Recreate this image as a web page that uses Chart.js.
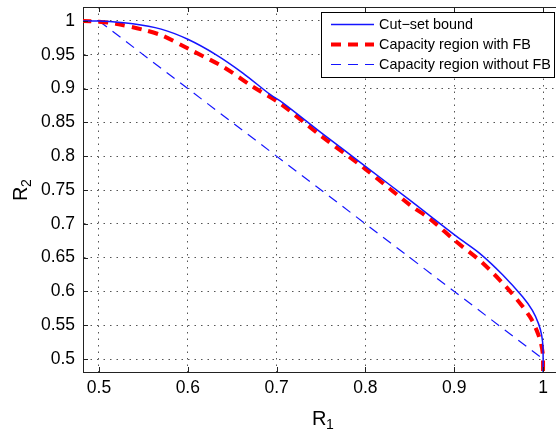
<!DOCTYPE html>
<html>
<head>
<meta charset="utf-8">
<script src="https://cdn.jsdelivr.net/npm/chart.js@4/dist/chart.umd.min.js"></script>
<style>
  body { margin: 0; background: #fff; }
  #wrap { width: 556px; height: 430px; }
</style>
</head>
<body>
<div id="wrap"><canvas id="rateChart" width="556" height="430"></canvas></div>
<script>
// values

const cutsetX = [0.48, 0.5, 0.538, 0.57, 0.6, 0.632, 0.662, 0.693, 0.707, 0.75, 0.8, 0.85, 0.903, 0.929, 0.955, 0.977, 0.988, 0.995, 0.9985, 1.0, 1.0];
const cutsetY = [1.0, 1.0, 0.996, 0.988, 0.973, 0.95, 0.923, 0.891, 0.879, 0.835, 0.785, 0.735, 0.681, 0.656, 0.624, 0.592, 0.572, 0.552, 0.535, 0.515, 0.47];

const fbX = [0.48, 0.5, 0.519, 0.55, 0.572, 0.602, 0.64, 0.673, 0.704, 0.75, 0.8, 0.85, 0.873, 0.9, 0.932, 0.963, 0.985, 0.995, 0.9995, 1.0];
const fbY = [1.0, 0.999, 0.996, 0.987, 0.978, 0.958, 0.932, 0.903, 0.878, 0.83, 0.781, 0.728, 0.707, 0.676, 0.642, 0.6, 0.563, 0.535, 0.51, 0.47];

const noFbX = [0.5, 1.0];
const noFbY = [1.0, 0.5];

const xTicks = [0.5, 0.6, 0.7, 0.8, 0.9, 1];
const yTicks = [0.5, 0.55, 0.6, 0.65, 0.7, 0.75, 0.8, 0.85, 0.9, 0.95, 1];

const seriesNames = ["Cut\u2212set bound", "Capacity region with FB", "Capacity region without FB"];

const FONT = "'Liberation Sans', Arial, Helvetica, sans-serif";

function toPoints(xs, ys) {
    return xs.map((x, i) => ({ x: x, y: ys[i] }));
}

// frame top line, inward ticks, axis titles and the boxed legend
const matlabBits = {
    id: "matlabBits",
    afterDraw(chart) {
        const ctx = chart.ctx;
        const area = chart.chartArea;
        const xs = chart.scales.x;
        const ys = chart.scales.y;

        ctx.save();
        ctx.strokeStyle = "#222";
        ctx.lineWidth = 1;
        ctx.beginPath();
        ctx.moveTo(area.left, area.top + 0.5);
        ctx.lineTo(area.right, area.top + 0.5);
        ctx.stroke();

        // inward ticks
        ctx.beginPath();
        xTicks.forEach((v) => {
            const px = Math.round(xs.getPixelForValue(v)) + 0.5;
            ctx.moveTo(px, area.bottom);
            ctx.lineTo(px, area.bottom - 5);
            ctx.moveTo(px, area.top);
            ctx.lineTo(px, area.top + 5);
        });
        yTicks.forEach((v) => {
            const py = Math.round(ys.getPixelForValue(v)) + 0.5;
            ctx.moveTo(area.left, py);
            ctx.lineTo(area.left + 5, py);
        });
        ctx.stroke();

        // axis titles
        ctx.fillStyle = "#000";
        ctx.textBaseline = "alphabetic";
        ctx.textAlign = "left";
        ctx.font = "20px " + FONT;
        ctx.fillText("R", 312, 425);
        ctx.font = "14px " + FONT;
        ctx.fillText("1", 326, 429);

        ctx.save();
        ctx.translate(27, 201);
        ctx.rotate(-Math.PI / 2);
        ctx.font = "20px " + FONT;
        ctx.fillText("R", 0, 0);
        ctx.font = "14px " + FONT;
        ctx.fillText("2", 14, 4);
        ctx.restore();

        // legend
        const box = { x: 321.5, y: 12.5, w: 233, h: 65 };
        ctx.fillStyle = "#fff";
        ctx.fillRect(box.x, box.y, box.w, box.h);
        ctx.strokeStyle = "#000";
        ctx.lineWidth = 1;
        ctx.strokeRect(box.x, box.y, box.w, box.h);

        const rows = [24.5, 44.5, 64.5];
        chart.data.datasets.forEach((ds, i) => {
            ctx.save();
            ctx.strokeStyle = ds.borderColor;
            ctx.lineWidth = ds.borderWidth;
            ctx.setLineDash(ds.borderDash || []);
            ctx.beginPath();
            ctx.moveTo(331, rows[i]);
            ctx.lineTo(374, rows[i]);
            ctx.stroke();
            ctx.restore();

            ctx.fillStyle = "#000";
            ctx.font = "14.4px " + FONT;
            ctx.textBaseline = "middle";
            ctx.fillText(ds.label, 379, rows[i] + 1);
        });
        ctx.restore();
    }
};

new Chart(document.getElementById("rateChart"), {
    type: "line",
    data: {
        datasets: [
            {
                label: seriesNames[0],
                data: toPoints(cutsetX, cutsetY),
                borderColor: "#1414ff",
                borderWidth: 1.5,
                tension: 0.3,
                pointRadius: 0,
                fill: false
            },
            {
                label: seriesNames[1],
                data: toPoints(fbX, fbY),
                borderColor: "#ff0000",
                borderWidth: 4,
                borderDash: [10, 7],
                tension: 0.3,
                pointRadius: 0,
                fill: false
            },
            {
                label: seriesNames[2],
                data: toPoints(noFbX, noFbY),
                borderColor: "#1414ff",
                borderWidth: 1.2,
                borderDash: [10, 7],
                pointRadius: 0,
                fill: false
            }
        ]
    },
    options: {
        responsive: false,
        animation: false,
        layout: { padding: { top: 7, left: 0, right: 0, bottom: 0 } },
        plugins: {
            legend: { display: false },
            tooltip: { enabled: false }
        },
        scales: {
            x: {
                type: "linear",
                min: 0.482,
                max: 1.0146,
                afterBuildTicks: (scale) => { scale.ticks = xTicks.map((v) => ({ value: v })); },
                afterFit: (scale) => {
                    scale.height = 58;
                    scale.paddingLeft = 0;
                    scale.paddingRight = 0;
                },
                ticks: {
                    color: "#000",
                    font: { family: FONT, size: 17.5 },
                    padding: 6,
                    maxRotation: 0,
                    callback: (v) => String(+Number(v).toFixed(2))
                },
                grid: { color: "#555", lineWidth: 1, drawTicks: false },
                border: { display: true, color: "#222", width: 1, dash: [1.5, 5] }
            },
            y: {
                type: "linear",
                min: 0.4808,
                max: 1.0207,
                afterBuildTicks: (scale) => { scale.ticks = yTicks.map((v) => ({ value: v })); },
                afterFit: (scale) => {
                    scale.width = 83;
                    scale.paddingTop = 0;
                    scale.paddingBottom = 0;
                },
                ticks: {
                    color: "#000",
                    font: { family: FONT, size: 17.5 },
                    padding: 8,
                    callback: (v) => String(+Number(v).toFixed(2))
                },
                grid: { color: "#555", lineWidth: 1, drawTicks: false },
                border: { display: true, color: "#222", width: 1, dash: [1.5, 5] }
            }
        }
    },
    plugins: [matlabBits]
});
</script>
</body>
</html>
